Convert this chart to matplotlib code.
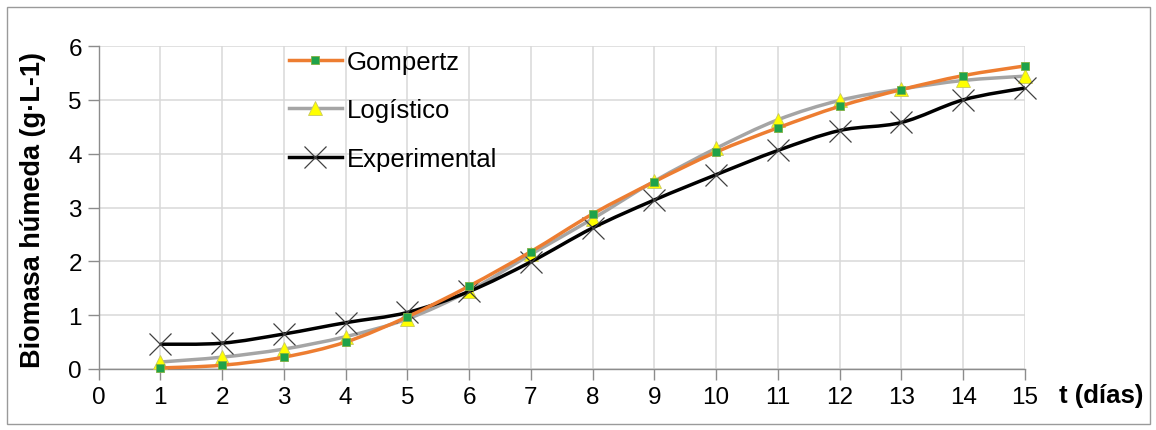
import numpy as np
import matplotlib
matplotlib.use("Agg")
import matplotlib.pyplot as plt
from matplotlib.path import Path
from matplotlib.patches import PathPatch, Rectangle
from matplotlib.lines import Line2D

plt.rcParams['font.family'] = ['Liberation Sans', 'DejaVu Sans']

# data
dias = [1, 2, 3, 4, 5, 6, 7, 8, 9, 10, 11, 12, 13, 14, 15]
gompertz = [0.02, 0.07, 0.22, 0.50, 0.97, 1.54, 2.18, 2.88, 3.48, 4.03, 4.48, 4.88, 5.19, 5.45, 5.63]
logistico = [0.13, 0.22, 0.37, 0.60, 0.93, 1.45, 2.13, 2.79, 3.49, 4.10, 4.63, 4.99, 5.20, 5.36, 5.44]
experimental = [0.46, 0.48, 0.65, 0.86, 1.05, 1.44, 1.99, 2.62, 3.14, 3.61, 4.06, 4.43, 4.58, 5.00, 5.22]


def smooth_path(x, y):
    # excel-like smoothed line: bezier segments through the points
    x = np.asarray(x, float)
    y = np.asarray(y, float)
    verts = [(x[0], y[0])]
    codes = [Path.MOVETO]
    n = len(x)
    for i in range(n - 1):
        x0, y0 = (x[i - 1], y[i - 1]) if i > 0 else (x[i], y[i])
        x3, y3 = (x[i + 2], y[i + 2]) if i + 2 < n else (x[i + 1], y[i + 1])
        c1 = (x[i] + (x[i + 1] - x0) / 6, y[i] + (y[i + 1] - y0) / 6)
        c2 = (x[i + 1] - (x3 - x[i]) / 6, y[i + 1] - (y3 - y[i]) / 6)
        verts += [c1, c2, (x[i + 1], y[i + 1])]
        codes += [Path.CURVE4] * 3
    return Path(verts, codes)


W, H = 1156, 431
fig = plt.figure(figsize=(W / 100, H / 100), dpi=100)
fig.patches.append(Rectangle((7 / W, 6 / H), 1143 / W, 417 / H, transform=fig.transFigure,
                             fill=False, edgecolor='#9a9a9a', linewidth=1.0))
ax = fig.add_axes([98.5 / W, 1 - 370 / H, (1025 - 98.5) / W, (370 - 47) / H])

ax.set_xlim(0, 15)
ax.set_ylim(0, 6)
ax.set_xticks(range(0, 16))
ax.set_yticks(range(0, 7))
ax.grid(True, color='#d9d9d9', linewidth=1.1)
ax.set_axisbelow(True)
for s in ['top', 'right']:
    ax.spines[s].set_visible(False)
for s in ['left', 'bottom']:
    ax.spines[s].set_color('#8c8c8c')
    ax.spines[s].set_linewidth(1.0)
ax.tick_params(axis='both', length=8, width=1.0, color='#8c8c8c', labelsize=17.5, pad=4)

series = [
    ('Logístico', logistico, '#a5a5a5', dict(marker='^', markersize=10, markerfacecolor='#ffff00',
                                              markeredgecolor='#c8c860', markeredgewidth=0.6), 3),
    ('Experimental', experimental, '#000000', dict(marker='x', markersize=16, markeredgecolor='#404040',
                                                    markeredgewidth=0.9), 4),
    ('Gompertz', gompertz, '#ed7d31', dict(marker='s', markersize=5.5, markerfacecolor='#1fa24a',
                                            markeredgecolor='#7fb040', markeredgewidth=0.6), 5),
]

handles = {}
for name, vals, col, mk, z in series:
    ax.add_patch(PathPatch(smooth_path(dias, vals), fill=False, edgecolor=col,
                           linewidth=2.5, zorder=z, clip_on=False))
    ax.plot(dias, vals, linestyle='none', zorder=z + 0.5, clip_on=False, **mk)
    handles[name] = Line2D([], [], color=col, linewidth=2.5, **mk)

order = ['Gompertz', 'Logístico', 'Experimental']
leg = ax.legend([handles[k] for k in order], order, loc='upper left',
                bbox_to_anchor=(276 / W, 1 - 38 / H), bbox_transform=fig.transFigure,
                frameon=False, fontsize=18.5, handlelength=2.05, handletextpad=0.2,
                labelspacing=0.95, borderpad=0)

ax.set_ylabel('Biomasa húmeda (g·L-1)', fontsize=19.5, fontweight='bold')
ax.yaxis.set_label_coords(-52 / (1025 - 98.5), (370 - 210) / (370 - 47))
fig.text(1059 / W, 1 - 396 / H, 't (días)', fontsize=18.5, fontweight='bold', va='center', ha='left')

fig.savefig('out.png', dpi=100)
